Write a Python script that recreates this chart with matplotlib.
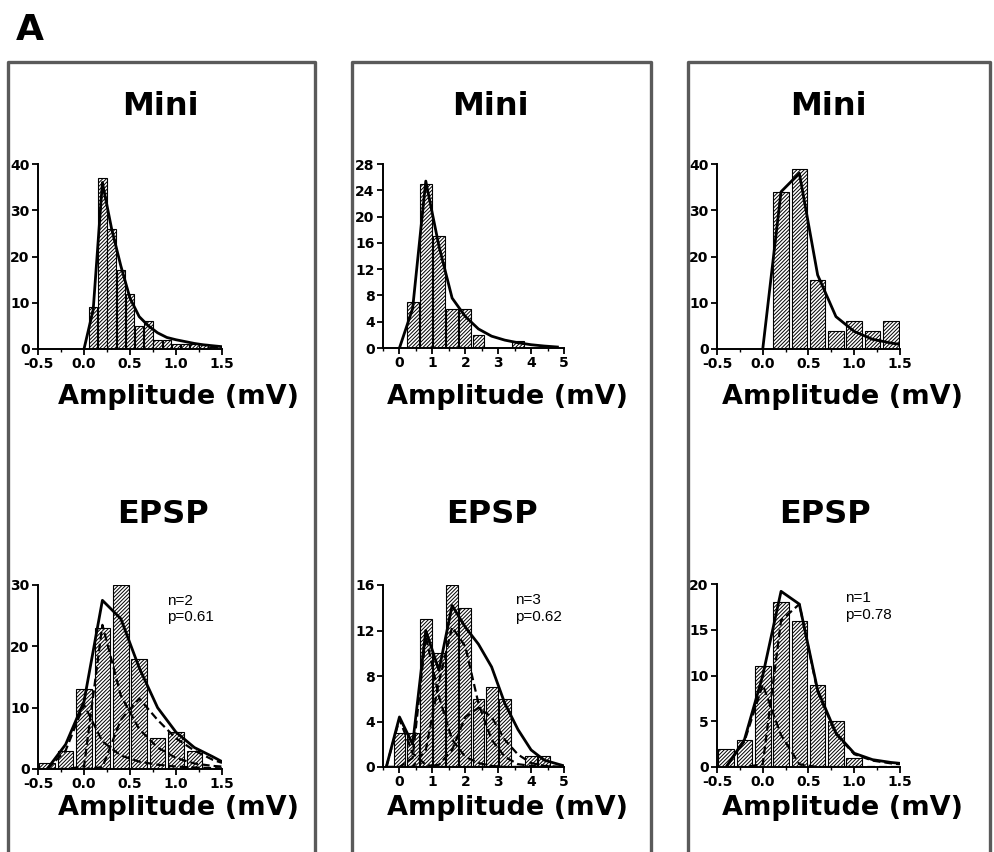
import numpy as np
import matplotlib
matplotlib.use("Agg")
import matplotlib.pyplot as plt
from matplotlib.lines import Line2D
from matplotlib.ticker import MultipleLocator, FormatStrFormatter

plt.rcParams['font.family'] = 'DejaVu Sans'
plt.rcParams['hatch.linewidth'] = 0.7

W, H = 995, 852

# ---- data ----

# top row: miniature amplitudes
mini1_bins = [0.1, 0.2, 0.3, 0.4, 0.5, 0.6, 0.7, 0.8, 0.9, 1.0, 1.1, 1.2, 1.3, 1.4]
mini1_counts = [9, 37, 26, 17, 12, 5, 6, 2, 2, 1, 1, 1, 1, 0.5]
mini1_fit_x = [0.0, 0.1, 0.2, 0.3, 0.4, 0.5, 0.6, 0.7, 0.8, 0.9, 1.0, 1.1, 1.2, 1.3, 1.4, 1.5]
mini1_fit = [0, 8.5, 36, 26, 18, 11, 7, 5, 3.5, 2.5, 2, 1.6, 1.2, 0.9, 0.7, 0.5]

mini2_bins = [0.4, 0.8, 1.2, 1.6, 2.0, 2.4, 2.8, 3.2, 3.6]
mini2_counts = [7, 25, 17, 6, 6, 2, 0, 0, 1]
mini2_fit_x = [0, 0.4, 0.8, 1.2, 1.6, 2.0, 2.4, 2.8, 3.2, 3.6, 4.0, 4.4, 4.8]
mini2_fit = [0, 6, 25.4, 15.5, 7.6, 4.8, 2.9, 1.8, 1.2, 0.8, 0.5, 0.3, 0.15]

mini3_bins = [0.2, 0.4, 0.6, 0.8, 1.0, 1.2, 1.4]
mini3_counts = [34, 39, 15, 4, 6, 4, 6]
mini3_fit_x = [0.0, 0.2, 0.4, 0.6, 0.8, 1.0, 1.2, 1.4, 1.5]
mini3_fit = [0, 34, 38, 16, 7, 3.8, 2.1, 1.3, 1.0]

# bottom row: evoked EPSP amplitudes with binomial fits
epsp1_bins = [-0.4, -0.2, 0.0, 0.2, 0.4, 0.6, 0.8, 1.0, 1.2]
epsp1_counts = [1, 3, 13, 23, 30, 18, 5, 6, 3]
epsp1_x = [-0.4, -0.2, 0.0, 0.2, 0.4, 0.6, 0.8, 1.0, 1.2, 1.4, 1.5]
epsp1_fit = [0, 4, 11, 27.5, 24.5, 16.5, 10, 6, 3.5, 2, 1.2]
epsp1_c0 = [0, 3, 10.5, 4.5, 2.2, 1.2, 0.7, 0.4, 0.25, 0.15, 0.1]
epsp1_c1 = [0, 0, 0.4, 23.5, 12, 6.5, 3.5, 1.8, 0.9, 0.5, 0.4]
epsp1_c2 = [0, 0, 0, 0.3, 8, 11.5, 8, 5, 3, 1.5, 1]

epsp2_bins = [0.0, 0.4, 0.8, 1.2, 1.6, 2.0, 2.4, 2.8, 3.2, 3.6, 4.0, 4.4]
epsp2_counts = [3, 3, 13, 10, 16, 14, 6, 7, 6, 0, 1, 1]
epsp2_x = [-0.4, 0.0, 0.4, 0.8, 1.2, 1.6, 2.0, 2.4, 2.8, 3.2, 3.6, 4.0, 4.4, 5.0]
epsp2_fit = [0, 4.4, 2, 12, 8.5, 14.2, 12.3, 10.8, 8.8, 5.6, 3.3, 1.5, 0.6, 0.1]
epsp2_c0 = [0, 4.2, 1.2, 0.2, 0, 0, 0, 0, 0, 0, 0, 0, 0, 0]
epsp2_c1 = [0, 0, 0.8, 11.5, 6.2, 2.4, 0.9, 0.35, 0.1, 0, 0, 0, 0, 0]
epsp2_c2 = [0, 0, 0, 1.5, 7.5, 12.3, 10.6, 5.6, 2.4, 0.9, 0.25, 0.1, 0, 0]
epsp2_c3 = [0, 0, 0, 0, 0.2, 1.5, 4.4, 5.2, 4.4, 2.4, 1.1, 0.35, 0.1, 0]

epsp3_bins = [-0.4, -0.2, 0.0, 0.2, 0.4, 0.6, 0.8, 1.0]
epsp3_counts = [2, 3, 11, 18, 16, 9, 5, 1]
epsp3_x = [-0.4, -0.2, 0.0, 0.2, 0.4, 0.6, 0.8, 1.0, 1.2, 1.4, 1.5]
epsp3_fit = [0, 3, 10, 19.2, 17.8, 8.4, 3.7, 1.5, 0.8, 0.5, 0.4]
epsp3_c0 = [0, 2.8, 9, 3.5, 0.3, 0, 0, 0, 0, 0, 0]
epsp3_c1 = [0, 0, 0.3, 16, 17.8, 8.2, 3.6, 1.4, 0.7, 0.4, 0.3]

fit_labels = ["n=2\np=0.61", "n=3\np=0.62", "n=1\np=0.78"]


def px_axes(fig, x0, x1, ytop, ybot):
    return fig.add_axes([x0 / W, 1 - ybot / H, (x1 - x0) / W, (ybot - ytop) / H])


def style(ax, xlim, ylim, xmaj, xmin, ymaj, xfmt):
    ax.set_xlim(*xlim)
    ax.set_ylim(*ylim)
    for s in ['top', 'right']:
        ax.spines[s].set_visible(False)
    for s in ['left', 'bottom']:
        ax.spines[s].set_linewidth(1.4)
    ax.xaxis.set_major_locator(MultipleLocator(xmaj))
    ax.xaxis.set_minor_locator(MultipleLocator(xmin))
    ax.yaxis.set_major_locator(MultipleLocator(ymaj))
    ax.xaxis.set_major_formatter(FormatStrFormatter(xfmt))
    ax.tick_params(which='major', direction='out', length=4, width=1.3, labelsize=10, pad=2)
    ax.tick_params(which='minor', direction='out', length=2.5, width=1.0)
    for lab in ax.get_xticklabels() + ax.get_yticklabels():
        lab.set_fontweight('bold')
    ax.patch.set_alpha(0)


def bars(ax, x, y, w):
    ax.bar(x, y, width=w, color='white', edgecolor='black', hatch='/////////',
           linewidth=0.8, zorder=2)


fig = plt.figure(figsize=(W / 100, H / 100), dpi=100)

# top row
ax1 = px_axes(fig, 38, 222, 164, 349)
bars(ax1, mini1_bins, mini1_counts, 0.09)
ax1.plot(mini1_fit_x, mini1_fit, color='black', lw=2, zorder=3)
style(ax1, (-0.5, 1.5), (0, 40), 0.5, 0.25, 10, '%.1f')

ax2 = px_axes(fig, 383, 564, 164, 348)
bars(ax2, mini2_bins, mini2_counts, 0.36)
ax2.plot(mini2_fit_x, mini2_fit, color='black', lw=2, zorder=3)
style(ax2, (-0.5, 5), (0, 28), 1, 0.5, 4, '%d')

ax3 = px_axes(fig, 717, 900, 164, 349)
bars(ax3, mini3_bins, mini3_counts, 0.17)
ax3.plot(mini3_fit_x, mini3_fit, color='black', lw=2, zorder=3)
style(ax3, (-0.5, 1.5), (0, 40), 0.5, 0.25, 10, '%.1f')

# bottom row
ax4 = px_axes(fig, 38, 222, 585, 769)
bars(ax4, epsp1_bins, epsp1_counts, 0.17)
for c in [epsp1_c0, epsp1_c1, epsp1_c2]:
    ax4.plot(epsp1_x, c, color='black', lw=1.6, ls=(0, (3.5, 1.8)), zorder=3)
ax4.plot(epsp1_x, epsp1_fit, color='black', lw=2, zorder=4)
style(ax4, (-0.5, 1.5), (0, 30), 0.5, 0.25, 10, '%.1f')
ax4.text(0.9, 28.6, fit_labels[0], family='Liberation Sans', fontsize=11,
         va='top', ha='left', linespacing=1.25)

ax5 = px_axes(fig, 383, 564, 585, 767)
bars(ax5, epsp2_bins, epsp2_counts, 0.36)
for c in [epsp2_c0, epsp2_c1, epsp2_c2, epsp2_c3]:
    ax5.plot(epsp2_x, c, color='black', lw=1.6, ls=(0, (3.5, 1.8)), zorder=3)
ax5.plot(epsp2_x, epsp2_fit, color='black', lw=2, zorder=4)
style(ax5, (-0.5, 5), (0, 16), 1, 0.5, 4, '%d')
ax5.text(3.5, 15.3, fit_labels[1], family='Liberation Sans', fontsize=11,
         va='top', ha='left', linespacing=1.25)

ax6 = px_axes(fig, 717, 900, 584, 767)
bars(ax6, epsp3_bins, epsp3_counts, 0.17)
for c in [epsp3_c0, epsp3_c1]:
    ax6.plot(epsp3_x, c, color='black', lw=1.6, ls=(0, (3.5, 1.8)), zorder=3)
ax6.plot(epsp3_x, epsp3_fit, color='black', lw=2, zorder=4)
style(ax6, (-0.5, 1.5), (0, 20), 0.5, 0.25, 5, '%.1f')
ax6.text(0.9, 19.2, fit_labels[2], family='Liberation Sans', fontsize=11,
         va='top', ha='left', linespacing=1.25)

# panel frames (open at the bottom edge of the image)
for x0, x1 in [(8, 315), (352, 651), (688, 990)]:
    xs = [x0 / W, x0 / W, x1 / W, x1 / W]
    ys = [-0.02, 1 - 62 / H, 1 - 62 / H, -0.02]
    fig.add_artist(Line2D(xs, ys, transform=fig.transFigure, color='#5a5a5a', lw=2.4))

# titles and axis labels
for cx in [160, 490, 828]:
    fig.text(cx / W, 1 - 115 / H, "Mini", ha='center', va='baseline',
             fontsize=23, fontweight='bold')
for cx in [163, 492, 825]:
    fig.text(cx / W, 1 - 523 / H, "EPSP", ha='center', va='baseline',
             fontsize=23, fontweight='bold')
for cx in [178, 508, 843]:
    fig.text(cx / W, 1 - 404 / H, "Amplitude (mV)", ha='center', va='baseline',
             fontsize=19.5, fontweight='bold')
    fig.text(cx / W, 1 - 815 / H, "Amplitude (mV)", ha='center', va='baseline',
             fontsize=19.5, fontweight='bold')

fig.text(16 / W, 1 - 40 / H, "A", ha='left', va='baseline', fontsize=26, fontweight='bold')

fig.savefig("out.png", dpi=100)
